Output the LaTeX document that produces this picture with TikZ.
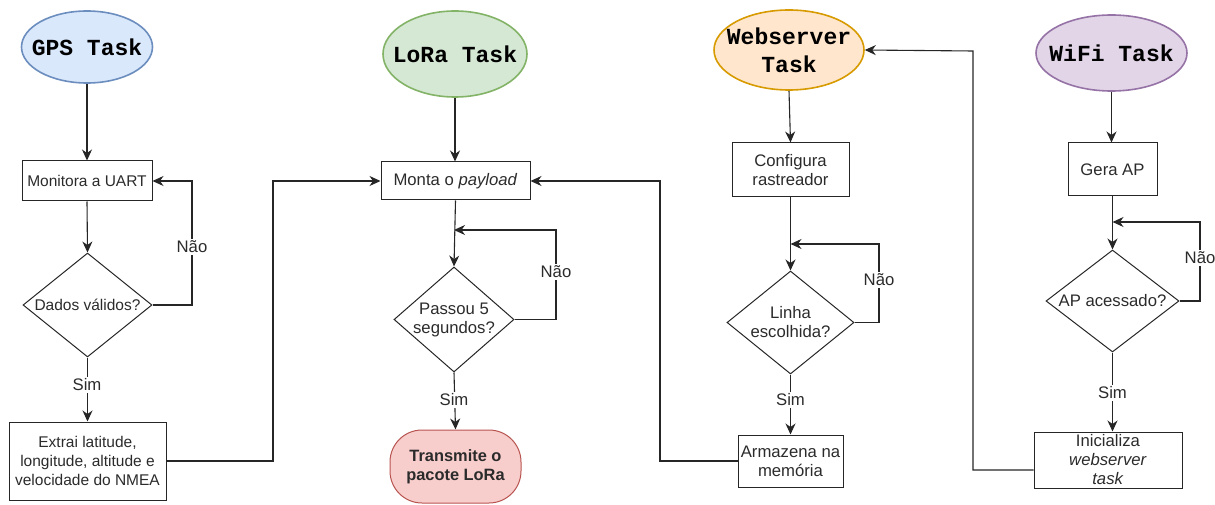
\documentclass[tikz,border=0pt]{standalone}
\usepackage{fontspec}
\setmainfont{Liberation Sans}
\newfontfamily\taskfont{Liberation Mono}
\usetikzlibrary{arrows.meta,shapes.geometric}
\definecolor{ln}{HTML}{262626}
\definecolor{txt}{HTML}{2B2B2B}
\definecolor{gpsF}{HTML}{DAE8FC}\definecolor{gpsD}{HTML}{6C8EBF}
\definecolor{loraF}{HTML}{D5E8D4}\definecolor{loraD}{HTML}{82B366}
\definecolor{webF}{HTML}{FFE6CC}\definecolor{webD}{HTML}{D79B00}
\definecolor{wifiF}{HTML}{E1D5E7}\definecolor{wifiD}{HTML}{9673A6}
\definecolor{txF}{HTML}{F8CECC}\definecolor{txD}{HTML}{B85450}
\tikzset{
  task/.style={ellipse, draw, line width=1.6pt, inner sep=0pt},
  tasktext/.style={align=center, inner sep=0pt, text=black,
    font=\taskfont\bfseries\fontsize{23}{28}\selectfont},
  small/.style={font=\fontsize{15.5}{19}\selectfont},
  box/.style={rectangle, draw=ln, line width=1pt, inner sep=0pt, align=center,
    text=txt, font=\fontsize{16.7}{19}\selectfont},
  dec/.style={diamond, draw=ln, line width=1pt, inner sep=0pt},
  dectext/.style={align=center, inner sep=0pt, text=txt, font=\fontsize{16.7}{19}\selectfont},
  flow/.style={draw=ln, line width=1.1pt, -{Stealth[length=11pt,width=10pt,inset=3.5pt]}},
  lab/.style={fill=white, inner sep=1.5pt, text=txt, font=\fontsize{16.7}{19}\selectfont}
}
\begin{document}
\begin{tikzpicture}[x=1pt,y=-1pt]
\useasboundingbox (0,0) rectangle (1215,505);

% GPS column
\node (gps) [task, fill=gpsF, draw=gpsD, minimum width=131, minimum height=72,
             label={[tasktext]center:{GPS Task}}] at (87,47) {};
\node (mon) [box, small, minimum width=130, minimum height=40] at (87,181) {Monitora a UART};
\node (dv)  [dec, minimum width=129, minimum height=104,
             label={[dectext, small]center:{Dados válidos?}}] at (87.5,305) {};
\node (ext) [box, small, minimum width=157, minimum height=78] at (87.5,461) {Extrai latitude,\\longitude, altitude e\\velocidade do NMEA};

% LoRa column
\node (lora)  [task, fill=loraF, draw=loraD, minimum width=144, minimum height=86,
               label={[tasktext]center:{LoRa Task}}] at (455,54) {};
\node (monta) [box, minimum width=149, minimum height=38] at (455.5,181) {Monta o \textit{payload}};
\node (p5)    [dec, minimum width=120, minimum height=105,
               label={[dectext]center:{Passou 5\\segundos?}}] at (454,319.5) {};
\node (tx)    [rectangle, rounded corners=32, draw=txD, fill=txF, line width=1pt, align=center,
               minimum width=131, minimum height=73, text=txt, inner sep=0pt,
               font=\bfseries\fontsize{16.4}{19}\selectfont] at (455.5,466.5) {Transmite o\\pacote LoRa};

% Webserver column
\node (web)  [task, fill=webF, draw=webD, minimum width=150, minimum height=80,
              label={[tasktext]center:{Webserver\\Task}}] at (789,50) {};
\node (conf) [box, minimum width=117, minimum height=54] at (790.5,170) {Configura\\rastreador};
\node (lin)  [dec, minimum width=127, minimum height=103,
              label={[dectext]center:{Linha\\escolhida?}}] at (790.5,322.5) {};
\node (arm)  [box, minimum width=105, minimum height=52] at (790.5,461) {Armazena na\\memória};

% WiFi column
\node (wifi) [task, fill=wifiF, draw=wifiD, minimum width=151, minimum height=76,
              label={[tasktext]center:{WiFi Task}}] at (1111.5,53) {};
\node (gera) [box, minimum width=89, minimum height=53] at (1112.5,169.5) {Gera AP};
\node (ap)   [dec, minimum width=133, minimum height=102,
              label={[dectext]center:{AP acessado?}}] at (1112.5,301) {};
\node (ini)  [box, minimum width=148, minimum height=56] at (1108,460) {Inicializa\\\textit{webserver}\\\textit{task}};

% bend points
\coordinate (gpsLoop) at (192,181);
\coordinate (toLora)  at (273,181);
\coordinate (loraLoop) at (556,230);
\coordinate (memBack) at (660,181);
\coordinate (webLoop) at (879,244);
\coordinate (apLoop)  at (1200,222);
\coordinate (startWeb) at (973,51);

% GPS flow
\draw[flow] (gps.south) -- (mon.north);
\draw[flow] (mon.south) -- (dv.north);
\draw[flow] (dv.east) -| (gpsLoop) -- (mon.east);
\draw[flow] (dv.south) -- (ext.north);
\draw[flow] (ext.east) -| (toLora) -- (monta.west);
\node (gNao) [lab] at (192,247) {Não};
\node (gSim) [lab] at (87,385) {Sim};

% LoRa flow
\draw[flow] (lora.south) -- (monta.north -| lora.south);
\draw[flow] (monta.south) -- (p5.north);
\draw[flow] (p5.east) -| (loraLoop) -- (p5.north |- loraLoop);
\draw[flow] (p5.south) -- (tx.north);
\node (lNao) [lab] at (556,272) {Não};
\node (lSim) [lab] at (454,400) {Sim};

% Webserver flow
\draw[flow] (web.south) -- (conf.north);
\draw[flow] (conf.south) -- (lin.north);
\draw[flow] (lin.east) -| (webLoop) -- (lin.north |- webLoop);
\draw[flow] (lin.south) -- (arm.north);
\draw[flow] (arm.west) -| (memBack) -- (monta.east);
\node (wNao) [lab] at (879,280) {Não};
\node (wSim) [lab] at (790.5,400) {Sim};

% WiFi flow
\draw[flow] (wifi.south) -- (gera.north -| wifi.south);
\draw[flow] (gera.south) -- (ap.north);
\draw[flow] (ap.east) -| (apLoop) -- (ap.north |- apLoop);
\draw[flow] (ap.south) -- (ini.north -| ap.south);
\draw[flow] ([yshift=-10pt]ini.west) -| (startWeb) -- (web.east);
\node (aNao) [lab] at (1200,258) {Não};
\node (aSim) [lab] at (1112.5,393) {Sim};
\end{tikzpicture}
\end{document}
